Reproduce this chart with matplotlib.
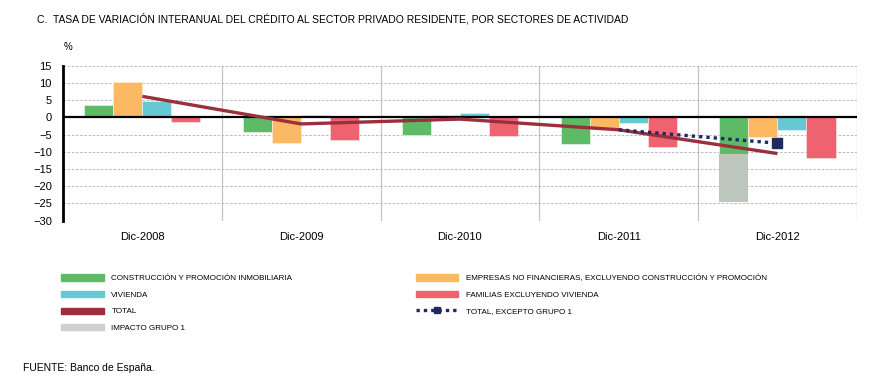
import numpy as np
import matplotlib
matplotlib.use('Agg')
import matplotlib.pyplot as plt
from matplotlib.patches import Patch
from matplotlib.lines import Line2D

# data
years = ['Dic-2008', 'Dic-2009', 'Dic-2010', 'Dic-2011', 'Dic-2012']
construccion = [3.5, -4.2, -5.2, -7.7, -10.5]
empresas = [10.2, -7.4, 0.8, -3.3, -5.8]
vivienda = [4.9, 0.8, 1.2, -1.6, -3.6]
familias = [-1.2, -6.7, -5.3, -8.7, -11.9]
impacto = [0, 0, 0, 0, -14.2]
total = [6.1, -1.9, -0.5, -3.6, -10.5]
total_excepto = [-3.6, -7.5]   # Dic-2011, Dic-2012

c_green = '#5dba66'
c_orange = '#fbb963'
c_cyan = '#66c8d3'
c_red = '#ef6371'
c_grey = '#bcc6bc'
c_total = '#9c2f3b'
c_navy = '#1f2b60'

narrow = ['Liberation Sans Narrow', 'Liberation Sans', 'DejaVu Sans']
plt.rcParams['font.family'] = ['Liberation Sans', 'DejaVu Sans']

fig = plt.figure(figsize=(8.77, 3.87), dpi=100)
ax = fig.add_axes([0.0718, 0.4297, 0.9052, 0.4005])

x = np.arange(len(years))
w = 0.183
ax.bar(x - 1.5 * w, construccion, w, color=c_green, edgecolor='#e8f3e8', linewidth=0.5, zorder=3)
ax.bar(x - 1.5 * w, impacto, w, bottom=construccion, color=c_grey, linewidth=0, zorder=3)
ax.bar(x - 0.5 * w, empresas, w, color=c_orange, edgecolor='#fdeed8', linewidth=0.5, zorder=3)
ax.bar(x + 0.5 * w, vivienda, w, color=c_cyan, edgecolor='#e3f5f7', linewidth=0.5, zorder=3)
ax.bar(x + 1.5 * w, familias, w, color=c_red, edgecolor='#fbe0e3', linewidth=0.5, zorder=3)

ax.axhline(0, color='black', lw=1.6, zorder=4)
ax.plot(x, total, color=c_total, lw=2.4, solid_capstyle='butt', zorder=5)
ax.plot(x[3:], total_excepto, color=c_navy, lw=2.4, ls=(0, (1, 1.2)),
        marker='s', markersize=7, markevery=[1], zorder=6)

ax.set_xlim(-0.5, 4.5)
ax.set_ylim(-30, 15)
ax.set_yticks(np.arange(-30, 16, 5))
ax.set_xticks(x)
ax.set_xticklabels(years)
ax.tick_params(axis='both', length=0, labelsize=8)
ax.tick_params(axis='y', pad=8)
ax.tick_params(axis='x', pad=8)

ax.yaxis.grid(True, color='#b0b0b0', lw=0.6, ls=(0, (3, 2)), zorder=0)
for sep in np.arange(0.5, 5, 1):
    ax.axvline(sep, color='#c4c4c4', lw=0.9, zorder=1)
for s in ['top', 'right', 'bottom']:
    ax.spines[s].set_visible(False)
ax.spines['left'].set_linewidth(2)

fig.text(0.042, 0.951, 'C.  TASA DE VARIACIÓN INTERANUAL DEL CRÉDITO AL SECTOR PRIVADO RESIDENTE, POR SECTORES DE ACTIVIDAD',
         fontsize=7.5, family=narrow, va='center')
fig.text(0.072, 0.878, '%', fontsize=7, family=narrow, va='center')
fig.text(0.026, 0.049, 'FUENTE: Banco de España.', fontsize=7.5, va='center')

h1 = [Patch(color=c_green), Patch(color=c_cyan),
      Patch(color=c_total), Patch(color='#d0d0d0')]
l1 = ['CONSTRUCCIÓN Y PROMOCIÓN INMOBILIARIA', 'VIVIENDA', 'TOTAL', 'IMPACTO GRUPO 1']
h2 = [Patch(color=c_orange), Patch(color=c_red),
      Line2D([], [], color=c_navy, lw=2.4, ls=(0, (1, 1.2)), marker='s', markersize=4.5)]
l2 = ['EMPRESAS NO FINANCIERAS, EXCLUYENDO CONSTRUCCIÓN Y PROMOCIÓN', 'FAMILIAS EXCLUYENDO VIVIENDA',
      'TOTAL, EXCEPTO GRUPO 1']
leg_kw = dict(loc='upper left', frameon=False, prop={'family': narrow, 'size': 5.8},
              handlelength=5.3, handleheight=0.8, handletextpad=0.9, labelspacing=1.08,
              numpoints=1, borderaxespad=0, borderpad=0)
fig.legend(h1, l1, bbox_to_anchor=(0.070, 0.291), **leg_kw)
fig.legend(h2, l2, bbox_to_anchor=(0.474, 0.291), **leg_kw)

fig.savefig('out.png', dpi=100)
